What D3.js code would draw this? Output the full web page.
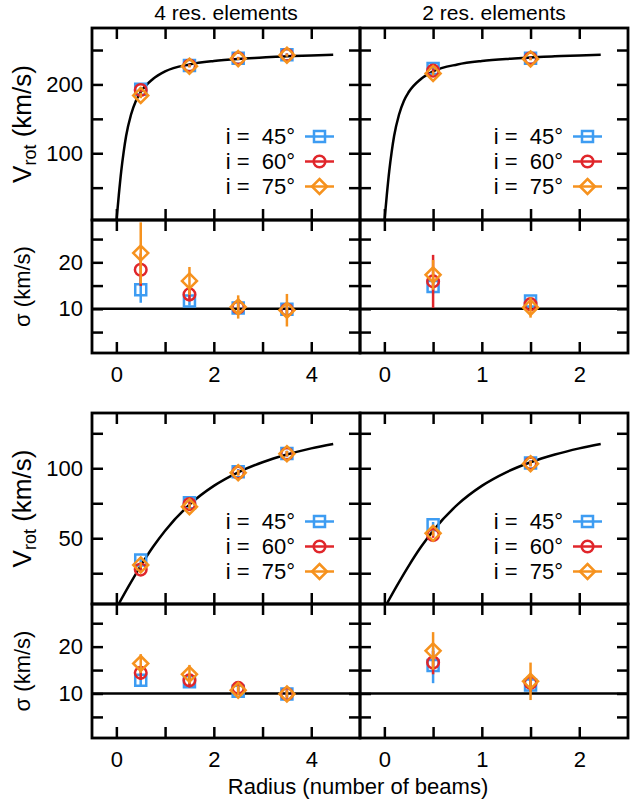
<!DOCTYPE html>
<html>
<head>
<meta charset="utf-8">
<script src="https://cdn.jsdelivr.net/npm/d3@7/dist/d3.min.js"></script>
<style>
  body { margin: 0; background: #fff; }
  svg text { font-family: "Liberation Sans", Arial, Helvetica, sans-serif; fill: #000; }
</style>
</head>
<body>
<div id="chart"></div>
<script>
// ---- data ----
var titles = ["4 res. elements", "2 res. elements"];
var inclinations = ["45°", "60°", "75°"];
var colors = ["#3d9cf2", "#e0262b", "#f6921e"];
var markers = ["square", "circle", "diamond"];

var radii4 = [0.5, 1.5, 2.5, 3.5];
var radii2 = [0.5, 1.5];

// model rotation curves (sampled from the plotted black line)
var modelR4 = [0, 0.05, 0.1, 0.15, 0.2, 0.3, 0.4, 0.5, 0.75, 1.0, 1.5, 2.0, 2.5, 3.0, 3.5, 4.0, 4.45];
var modelR2 = [0, 0.025, 0.05, 0.075, 0.1, 0.15, 0.2, 0.25, 0.375, 0.5, 0.75, 1.0, 1.25, 1.5, 1.75, 2.0, 2.22];
var modelVfast = [0, 39, 74, 102, 125, 156, 176, 189, 208, 219, 229, 234, 237, 239, 241, 242, 243];
var modelRs4 = [0, 0.25, 0.5, 0.75, 1.0, 1.5, 2.0, 2.5, 3.0, 3.5, 4.0, 4.45];
var modelRs2 = [0, 0.125, 0.25, 0.375, 0.5, 0.75, 1.0, 1.25, 1.5, 1.75, 2.0, 2.22];
var modelVslow = [0, 15.6, 30.3, 43.7, 55.4, 74.0, 87.4, 97.1, 104.3, 109.8, 114.2, 117.4];
var sigmaTrue = 10;

// fast-rising galaxy, 4 res. elements
var vA4 = [[193, 227.5, 238, 243], [192, 227.5, 238, 243], [184, 226.5, 237.5, 242.5]];
var vA4err = [[3, 2, 2, 2], [3, 2, 2, 2], [4, 2, 2, 2]];
var sA4 = [[14.1, 11.7, 10.2, 9.9], [18.4, 13.1, 10.3, 9.8], [22.0, 16.0, 10.4, 9.7]];
var sA4err = [[2.8, 1.0, 0.8, 0.8], [3.5, 1.5, 1.0, 1.0], [6.6, 3.0, 2.5, 3.5]];
// fast-rising galaxy, 2 res. elements
var vA2 = [[223, 238], [220, 238], [216, 237]];
var vA2err = [[3, 2], [3, 2], [3, 2]];
var sA2 = [[14.8, 11.7], [15.9, 11.0], [17.3, 10.3]];
var sA2err = [[1.5, 0.8], [5.7, 1.0], [3.2, 2.2]];
// slowly rising galaxy, 4 res. elements
var vB4 = [[34.4, 75.4, 97.5, 110.5], [27.6, 74.4, 97, 110.4], [30.9, 72.5, 96.8, 110.4]];
var vB4err = [[2, 2, 2, 2], [2, 2, 2, 2], [2, 2, 2, 2]];
var sB4 = [[12.8, 12.5, 10.5, 9.9], [14.4, 12.8, 11.2, 9.9], [16.4, 14.1, 10.7, 9.9]];
var sB4err = [[1.2, 1.0, 0.8, 0.8], [1.5, 1.5, 1.0, 0.8], [2.0, 2.0, 1.0, 0.8]];
// slowly rising galaxy, 2 res. elements
var vB2 = [[59.6, 103.8], [52.3, 103.5], [53.5, 103.3]];
var vB2err = [[2, 2], [2, 2], [2, 2]];
var sB2 = [[16.0, 11.8], [16.6, 12.3], [19.1, 12.6]];
var sB2err = [[3.8, 1.5], [2.5, 2.0], [4.0, 4.0]];

var xDomain4 = [-0.5, 5], xDomain2 = [-0.25, 2.5];
var xTicks4 = [0, 1, 2, 3, 4], xLabels4 = [0, 2, 4];
var xTicks2 = [0, 0.5, 1, 1.5, 2], xLabels2 = [0, 1, 2];
var vDomainA = [3, 282], vTicksA = [50, 100, 150, 200, 250], vLabelsA = [100, 200];
var vDomainB = [3, 139.5], vTicksB = [25, 50, 75, 100, 125], vLabelsB = [50, 100];
var sDomain = [0.5, 29.1], sTicks = [5, 10, 15, 20, 25], sLabels = [10, 20];

// ---- layout ----
var W = 630, H = 804;
var colX = [92, 360], panelW = 268;
var rows = [
  {vTop: 28, vBot: 220, sBot: 353},
  {vTop: 413, vBot: 604, sBot: 738}
];
var tickLen = 11;

var svg = d3.select("#chart").append("svg")
  .attr("width", W).attr("height", H);

var clipId = 0;

function symbolPath(kind) {
  if (kind === "square") return "M-5.5,-5.5H5.5V5.5H-5.5Z";
  if (kind === "circle") return d3.symbol().type(d3.symbolCircle).size(Math.PI * 5.8 * 5.8)();
  return "M0,-7.5L7.5,0L0,7.5L-7.5,0Z";
}

function panel(x0, y0, w, h, xDom, yDom, xt, xl, yt, yl, showX, showY) {
  var x = d3.scaleLinear().domain(xDom).range([x0, x0 + w]);
  var y = d3.scaleLinear().domain(yDom).range([y0 + h, y0]);
  var g = svg.append("g");
  var fmt = function (labels, show) {
    return function (d) { return show && labels.indexOf(d) >= 0 ? d : ""; };
  };
  var axes = [
    [d3.axisBottom(x).tickValues(xt).tickFormat(fmt(xl, showX)).tickPadding(13), "translate(0," + (y0 + h) + ")"],
    [d3.axisTop(x).tickValues(xt).tickFormat(""), "translate(0," + y0 + ")"],
    [d3.axisLeft(y).tickValues(yt).tickFormat(fmt(yl, showY)).tickPadding(9), "translate(" + x0 + ",0)"],
    [d3.axisRight(y).tickValues(yt).tickFormat(""), "translate(" + (x0 + w) + ",0)"]
  ];
  axes.forEach(function (a) {
    var ax = g.append("g").attr("transform", a[1])
      .call(a[0].tickSizeInner(-tickLen).tickSizeOuter(0));
    ax.select(".domain").remove();
    ax.selectAll(".tick line").attr("stroke", "#000").attr("stroke-width", 2.5);
    ax.selectAll(".tick text").attr("font-size", 22)
      .attr("font-family", "Liberation Sans, Arial, sans-serif").attr("fill", "#000");
  });
  var id = "clip" + (clipId++);
  svg.append("clipPath").attr("id", id).append("rect")
    .attr("x", x0).attr("y", y0).attr("width", w).attr("height", h);
  var plot = svg.append("g").attr("clip-path", "url(#" + id + ")");
  return {x: x, y: y, g: g, plot: plot, frame: [x0, y0, w, h]};
}

function frame(p) {
  svg.append("rect").attr("x", p.frame[0]).attr("y", p.frame[1])
    .attr("width", p.frame[2]).attr("height", p.frame[3])
    .attr("fill", "none").attr("stroke", "#000").attr("stroke-width", 2.8);
}

function curve(p, xs, ys) {
  p.plot.append("path")
    .datum(xs.map(function (d, i) { return [d, ys[i]]; }))
    .attr("fill", "none").attr("stroke", "#000").attr("stroke-width", 2.5)
    .attr("d", d3.line().x(function (d) { return p.x(d[0]); })
      .y(function (d) { return p.y(d[1]); }).curve(d3.curveMonotoneX));
}

function hline(p, v) {
  p.plot.append("line")
    .attr("x1", p.x.range()[0]).attr("x2", p.x.range()[1])
    .attr("y1", p.y(v)).attr("y2", p.y(v))
    .attr("stroke", "#000").attr("stroke-width", 2.5);
}

function points(p, xs, vals, errs) {
  vals.forEach(function (series, s) {
    var pts = xs.map(function (d, i) { return {x: d, v: series[i], e: errs[s][i]}; });
    var gs = p.plot.append("g");
    gs.selectAll("line").data(pts).enter().append("line")
      .attr("x1", function (d) { return p.x(d.x); })
      .attr("x2", function (d) { return p.x(d.x); })
      .attr("y1", function (d) { return p.y(d.v - d.e); })
      .attr("y2", function (d) { return p.y(d.v + d.e); })
      .attr("stroke", colors[s]).attr("stroke-width", 2.5);
    gs.selectAll("path").data(pts).enter().append("path")
      .attr("d", symbolPath(markers[s]))
      .attr("transform", function (d) { return "translate(" + p.x(d.x) + "," + p.y(d.v) + ")"; })
      .attr("fill", "none").attr("stroke", colors[s]).attr("stroke-width", 2.5);
  });
}

function legend(p) {
  var right = p.frame[0] + p.frame[2];
  var top = p.frame[1];
  inclinations.forEach(function (lab, s) {
    var cy = top + 108.5 + s * 25;
    svg.append("text").attr("x", right - 65).attr("y", cy).attr("dy", "0.36em")
      .attr("text-anchor", "end").attr("font-size", 22)
      .style("white-space", "pre").text("i =  " + lab);
    svg.append("line").attr("x1", right - 55).attr("x2", right - 26)
      .attr("y1", cy).attr("y2", cy)
      .attr("stroke", colors[s]).attr("stroke-width", 2.5);
    svg.append("path").attr("d", symbolPath(markers[s]))
      .attr("transform", "translate(" + (right - 40.5) + "," + cy + ")")
      .attr("fill", "none").attr("stroke", colors[s]).attr("stroke-width", 2.5);
  });
}

var groups = [
  {vd: vDomainA, vt: vTicksA, vl: vLabelsA,
   v: [vA4, vA2], ve: [vA4err, vA2err], s: [sA4, sA2], se: [sA4err, sA2err],
   mx: [modelR4, modelR2], my: modelVfast},
  {vd: vDomainB, vt: vTicksB, vl: vLabelsB,
   v: [vB4, vB2], ve: [vB4err, vB2err], s: [sB4, sB2], se: [sB4err, sB2err],
   mx: [modelRs4, modelRs2], my: modelVslow}
];

groups.forEach(function (gr, r) {
  var row = rows[r];
  [0, 1].forEach(function (c) {
    var xd = c === 0 ? xDomain4 : xDomain2;
    var xt = c === 0 ? xTicks4 : xTicks2;
    var xl = c === 0 ? xLabels4 : xLabels2;
    var radii = c === 0 ? radii4 : radii2;
    var pv = panel(colX[c], row.vTop, panelW, row.vBot - row.vTop, xd, gr.vd, xt, xl, gr.vt, gr.vl, false, c === 0);
    curve(pv, gr.mx[c], gr.my);
    points(pv, radii, gr.v[c], gr.ve[c]);
    legend(pv);
    var ps = panel(colX[c], row.vBot, panelW, row.sBot - row.vBot, xd, sDomain, xt, xl, sTicks, sLabels, true, c === 0);
    hline(ps, sigmaTrue);
    points(ps, radii, gr.s[c], gr.se[c]);
    frame(pv);
    frame(ps);
  });

  // axis titles
  var vc = (row.vTop + row.vBot) / 2;
  var vt = svg.append("text").attr("text-anchor", "middle").attr("font-size", 26)
    .attr("transform", "translate(31," + vc + ") rotate(-90)");
  vt.append("tspan").text("V");
  vt.append("tspan").attr("font-size", 18).attr("dy", 5).text("rot");
  vt.append("tspan").attr("dy", -5).style("white-space", "pre").text(" (km/s)");
  var sc = (row.vBot + row.sBot) / 2;
  svg.append("text").attr("text-anchor", "middle").attr("font-size", 22)
    .attr("transform", "translate(30," + sc + ") rotate(-90)")
    .text("σ (km/s)");
});

titles.forEach(function (t, c) {
  svg.append("text").attr("x", colX[c] + panelW / 2).attr("y", 20)
    .attr("text-anchor", "middle").attr("font-size", 21).text(t);
});

svg.append("text").attr("x", 358).attr("y", 794).attr("text-anchor", "middle")
  .attr("font-size", 22).text("Radius (number of beams)");
</script>
</body>
</html>
